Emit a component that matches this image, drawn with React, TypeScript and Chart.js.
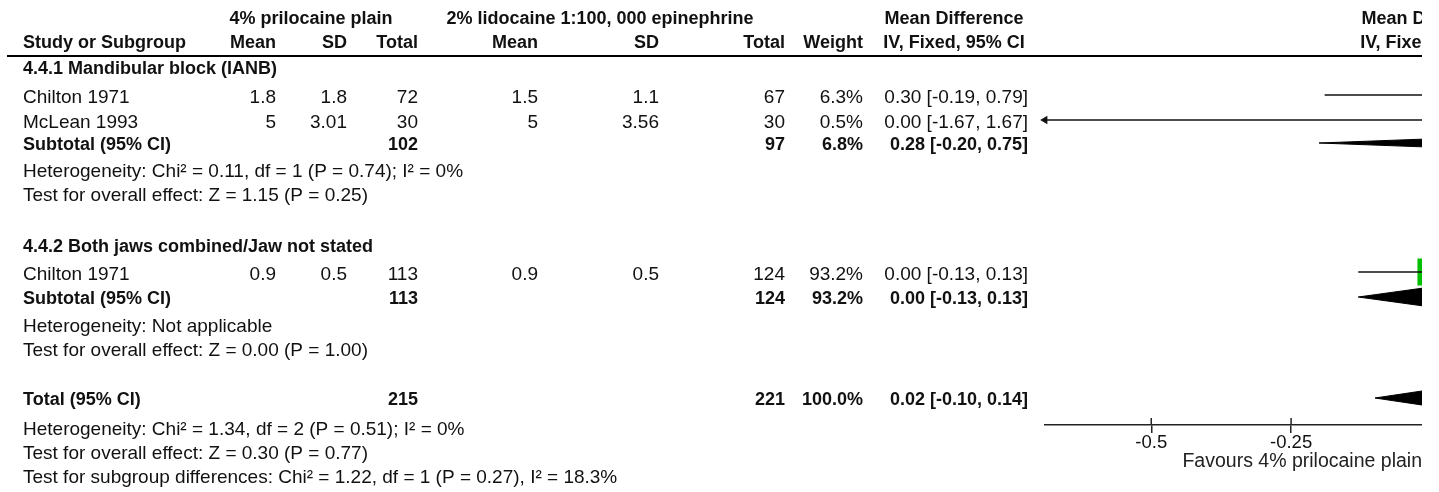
import React, { useEffect, useRef } from "react";
import { Chart, registerables } from "chart.js";

Chart.register(...registerables);

// ---------------- data ----------------
const studyNames = ["Chilton 1971", "McLean 1993", "Chilton 1971"];
const studyGroup = [0, 0, 1];
const expMean = [1.8, 5, 0.9];
const expSD = [1.8, 3.01, 0.5];
const expTotal = [72, 30, 113];
const ctrlMean = [1.5, 5, 0.9];
const ctrlSD = [1.1, 3.56, 0.5];
const ctrlTotal = [67, 30, 124];
const studyWeight = [6.3, 0.5, 93.2];
const studyMD = [0.3, 0.0, 0.0];
const studyLow = [-0.19, -1.67, -0.13];
const studyHigh = [0.79, 1.67, 0.13];

const subgroupNames = ["4.4.1 Mandibular block (IANB)", "4.4.2 Both jaws combined/Jaw not stated"];
const subExpTotal = [102, 113];
const subCtrlTotal = [97, 124];
const subWeight = [6.8, 93.2];
const subMD = [0.28, 0.0];
const subLow = [-0.2, -0.13];
const subHigh = [0.75, 0.13];
const subHeterogeneity = [
  "Heterogeneity: Chi\u00b2 = 0.11, df = 1 (P = 0.74); I\u00b2 = 0%",
  "Heterogeneity: Not applicable",
];
const subOverall = [
  "Test for overall effect: Z = 1.15 (P = 0.25)",
  "Test for overall effect: Z = 0.00 (P = 1.00)",
];

const totalExp = 215;
const totalCtrl = 221;
const totalWeight = 100.0;
const totalMD = 0.02;
const totalLow = -0.1;
const totalHigh = 0.14;
const totalNotes = [
  "Heterogeneity: Chi\u00b2 = 1.34, df = 2 (P = 0.51); I\u00b2 = 0%",
  "Test for overall effect: Z = 0.30 (P = 0.77)",
  "Test for subgroup differences: Chi\u00b2 = 1.22, df = 1 (P = 0.27), I\u00b2 = 18.3%",
];

const expLabel = "4% prilocaine plain";
const ctrlLabel = "2% lidocaine 1:100, 000 epinephrine";
const effectLabel = "Mean Difference";
const methodLabel = "IV, Fixed, 95% CI";
const favoursLabel = "Favours 4% prilocaine plain";
const xTicks = [-0.5, -0.25];
const xAxisMin = -0.69;
const xAxisMax = -0.016;

// ---------------- layout (pixels / row positions) ----------------
const W = 1439;
const H = 492;
const CANVAS_W = 1422;
const AXIS_Y = 425;
const PLOT_LEFT = 1045;
const ROW = {
  h1: 19,
  h2: 43,
  rule: 56,
  group: [69, 247],
  study: [95, 120, 272],
  sub: [143, 297],
  het: [172, 327],
  test: [196, 351],
  total: 398,
  notes: [430, 454, 478],
};
const COL = {
  name: 23,
  expMean: 276,
  expSD: 347,
  expTotal: 418,
  ctrlMean: 538,
  ctrlSD: 659,
  ctrlTotal: 785,
  weight: 863,
  ci: 1028,
  expCenter: 311,
  ctrlCenter: 600,
  mdCenter: 954,
};
const FONT = '"Liberation Sans", Arial, Helvetica, sans-serif';
const REG = 19;
const BOLD = 18;
const TICK_SIZE = 18.5;
const TITLE_SIZE = 19.5;
const INK = "#111111";
const GREEN = "#00c000";
const DIAMOND_HALF = 10;
const MAX_SQUARE = 27;

const f2 = (v: number) => v.toFixed(2);
const ciText = (m: number, lo: number, hi: number) => `${f2(m)} [${f2(lo)}, ${f2(hi)}]`;
const wText = (w: number) => `${w.toFixed(1)}%`;

export default function App() {
  const ref = useRef<HTMLCanvasElement>(null);

  useEffect(() => {
    const canvas = ref.current;
    if (!canvas) return;

    const datasets: any[] = [];
    const maxW = Math.max(...studyWeight);

    // CI lines
    studyMD.forEach((_, i) => {
      const y = ROW.study[i];
      datasets.push({
        data: [
          { x: studyLow[i], y },
          { x: studyHigh[i], y },
        ],
        borderColor: INK,
        borderWidth: 1.5,
        pointRadius: 0,
        pointHoverRadius: 0,
        fill: false,
      });
    });

    // arrows where CI runs past the left end of the axis
    const arrows = studyLow
      .map((lo, i) => (lo < xAxisMin ? { x: xAxisMin, y: ROW.study[i] } : null))
      .filter(Boolean);
    datasets.push({
      data: arrows,
      showLine: false,
      pointStyle: "triangle",
      pointRotation: -90,
      pointRadius: 4.8,
      pointHoverRadius: 4.8,
      pointBackgroundColor: INK,
      pointBorderWidth: 0,
      clip: false,
    });

    // weight squares
    const sq = studyWeight.map((w) => (MAX_SQUARE / Math.SQRT2) * Math.sqrt(w / maxW));
    datasets.push({
      data: studyMD.map((m, i) => ({ x: m, y: ROW.study[i] })),
      showLine: false,
      pointStyle: "rect",
      pointRadius: sq,
      pointHoverRadius: sq,
      pointBackgroundColor: GREEN,
      pointBorderColor: GREEN,
      pointBorderWidth: 0,
    });

    // diamonds
    const addDiamond = (m: number, lo: number, hi: number, y: number) => {
      [-1, 1].forEach((s) => {
        datasets.push({
          data: [
            { x: lo, y },
            { x: m, y: y + s * DIAMOND_HALF },
            { x: hi, y },
          ],
          borderColor: "#000",
          borderWidth: 1,
          backgroundColor: "#000",
          pointRadius: 0,
          pointHoverRadius: 0,
          tension: 0,
          fill: { value: y },
        });
      });
    };
    subMD.forEach((m, g) => addDiamond(m, subLow[g], subHigh[g], ROW.sub[g]));
    addDiamond(totalMD, totalLow, totalHigh, ROW.total);

    const tablePlugin = {
      id: "forestTable",
      afterDraw(chart: any) {
        const ctx = chart.ctx as CanvasRenderingContext2D;
        const ys = chart.scales.y;
        const xs = chart.scales.x;
        const x0 = xs.getPixelForValue(0);
        ctx.save();
        const t = (txt: string, x: number, row: number, align: CanvasTextAlign, bold: boolean, dy = 0) => {
          ctx.font = `${bold ? "bold " : ""}${bold ? BOLD : REG}px ${FONT}`;
          ctx.textAlign = align;
          ctx.textBaseline = "middle";
          ctx.fillStyle = INK;
          ctx.fillText(txt, x, ys.getPixelForValue(row) + dy);
        };
        // header line 1
        t(expLabel, COL.expCenter, ROW.h1, "center", true);
        t(ctrlLabel, COL.ctrlCenter, ROW.h1, "center", true);
        t(effectLabel, COL.mdCenter, ROW.h1, "center", true);
        t(effectLabel, x0, ROW.h1, "center", true);
        // header line 2
        t("Study or Subgroup", COL.name, ROW.h2, "left", true);
        t("Mean", COL.expMean, ROW.h2, "right", true);
        t("SD", COL.expSD, ROW.h2, "right", true);
        t("Total", COL.expTotal, ROW.h2, "right", true);
        t("Mean", COL.ctrlMean, ROW.h2, "right", true);
        t("SD", COL.ctrlSD, ROW.h2, "right", true);
        t("Total", COL.ctrlTotal, ROW.h2, "right", true);
        t("Weight", COL.weight, ROW.h2, "right", true);
        t(methodLabel, COL.mdCenter, ROW.h2, "center", true);
        t(methodLabel, x0, ROW.h2, "center", true);
        // rule
        ctx.fillStyle = "#000";
        const ry = ys.getPixelForValue(ROW.rule);
        ctx.fillRect(7, ry - 1, CANVAS_W - 7, 2);

        const dy = 2.5;
        subgroupNames.forEach((name, g) => {
          t(name, COL.name, ROW.group[g], "left", true);
          studyNames.forEach((s, i) => {
            if (studyGroup[i] !== g) return;
            const r = ROW.study[i];
            t(s, COL.name, r, "left", false, dy);
            t(String(expMean[i]), COL.expMean, r, "right", false, dy);
            t(String(expSD[i]), COL.expSD, r, "right", false, dy);
            t(String(expTotal[i]), COL.expTotal, r, "right", false, dy);
            t(String(ctrlMean[i]), COL.ctrlMean, r, "right", false, dy);
            t(String(ctrlSD[i]), COL.ctrlSD, r, "right", false, dy);
            t(String(ctrlTotal[i]), COL.ctrlTotal, r, "right", false, dy);
            t(wText(studyWeight[i]), COL.weight, r, "right", false, dy);
            t(ciText(studyMD[i], studyLow[i], studyHigh[i]), COL.ci, r, "right", false, dy);
          });
          const r = ROW.sub[g];
          t("Subtotal (95% CI)", COL.name, r, "left", true, dy);
          t(String(subExpTotal[g]), COL.expTotal, r, "right", true, dy);
          t(String(subCtrlTotal[g]), COL.ctrlTotal, r, "right", true, dy);
          t(wText(subWeight[g]), COL.weight, r, "right", true, dy);
          t(ciText(subMD[g], subLow[g], subHigh[g]), COL.ci, r, "right", true, dy);
          t(subHeterogeneity[g], COL.name, ROW.het[g], "left", false);
          t(subOverall[g], COL.name, ROW.test[g], "left", false);
        });
        t("Total (95% CI)", COL.name, ROW.total, "left", true, dy);
        t(String(totalExp), COL.expTotal, ROW.total, "right", true, dy);
        t(String(totalCtrl), COL.ctrlTotal, ROW.total, "right", true, dy);
        t(wText(totalWeight), COL.weight, ROW.total, "right", true, dy);
        t(ciText(totalMD, totalLow, totalHigh), COL.ci, ROW.total, "right", true, dy);
        totalNotes.forEach((n, k) => t(n, COL.name, ROW.notes[k], "left", false));

        // upper half of axis tick marks
        ctx.strokeStyle = "#222";
        ctx.lineWidth = 1.5;
        const ay = chart.chartArea.bottom;
        xs.ticks.forEach((tk: any) => {
          const px = xs.getPixelForValue(tk.value);
          ctx.beginPath();
          ctx.moveTo(px, ay - 7);
          ctx.lineTo(px, ay);
          ctx.stroke();
        });
        ctx.restore();
      },
    };

    const chart = new Chart(canvas, {
      type: "line",
      data: { datasets },
      options: {
        responsive: false,
        animation: false,
        events: [],
        layout: { autoPadding: false, padding: { left: PLOT_LEFT, right: 0, top: 0, bottom: 0 } },
        plugins: { legend: { display: false }, tooltip: { enabled: false } },
        scales: {
          x: {
            type: "linear",
            min: xAxisMin,
            max: xAxisMax,
            afterBuildTicks: (s: any) => {
              s.ticks = xTicks.map((v) => ({ value: v }));
            },
            afterFit: (s: any) => {
              s.height = H - AXIS_Y;
            },
            grid: {
              display: true,
              drawOnChartArea: false,
              drawTicks: true,
              tickLength: 8,
              color: "#222",
              lineWidth: 1.5,
            },
            border: { display: true, color: "#222", width: 1.5 },
            ticks: {
              color: INK,
              padding: -1,
              font: { family: FONT, size: TICK_SIZE },
              callback: (v: any) => String(v),
            },
            title: {
              display: true,
              text: favoursLabel,
              align: "end",
              color: "#222",
              font: { family: FONT, size: TITLE_SIZE },
              padding: { top: 0, bottom: 19 },
            },
          },
          y: {
            type: "linear",
            display: false,
            reverse: true,
            min: 0,
            max: AXIS_Y,
          },
        },
      },
      plugins: [tablePlugin],
    } as any);

    return () => chart.destroy();
  }, []);

  return (
    <div style={{ position: "fixed", left: 0, top: 0, width: W, height: H, background: "#fff" }}>
      <canvas ref={ref} width={CANVAS_W} height={H} style={{ display: "block" }} />
    </div>
  );
}
